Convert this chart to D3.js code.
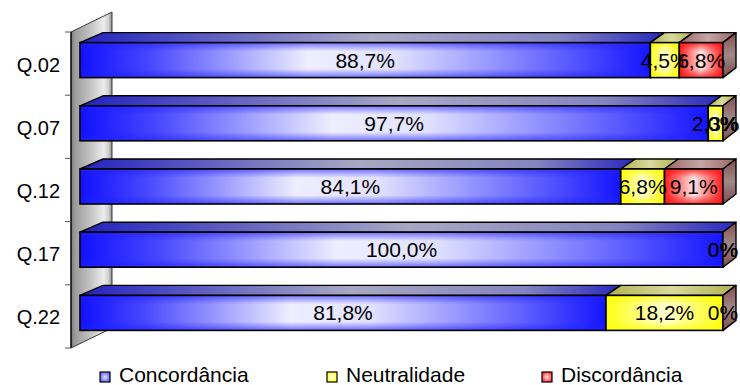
<!DOCTYPE html>
<html>
<head>
<meta charset="utf-8">
<script src="https://cdn.jsdelivr.net/npm/d3@7"></script>
<style>
  body { margin: 0; background: #fff; }
  svg { display: block; }
  text { font-family: "Liberation Sans", Arial, sans-serif; fill: #000; }
</style>
</head>
<body>
<svg id="chart" width="740" height="385"></svg>
<script>
// Question categories and the share (%) of answers in each group
const categories   = ["Q.02", "Q.07", "Q.12", "Q.17", "Q.22"];
const concordancia = [88.7, 97.7, 84.1, 100.0, 81.8];
const neutralidade = [4.5, 2.3, 6.8, 0, 18.2];
const discordancia = [6.8, 0, 9.1, 0, 0];
const seriesNames  = ["Concordância", "Neutralidade", "Discordância"];
const seriesKeys   = ["conc", "neut", "disc"];

const rows = categories.map((c, i) => ({
  cat: c,
  vals: [concordancia[i], neutralidade[i], discordancia[i]]
}));

const svg = d3.select("#chart");
const defs = svg.append("defs");

// ---- gradients -------------------------------------------------------
function hGrad(id, stops) {
  const g = defs.append("linearGradient").attr("id", id)
    .attr("x1", 0).attr("y1", 0).attr("x2", 1).attr("y2", 0);
  stops.forEach(([o, c, a]) => g.append("stop").attr("offset", o)
    .attr("stop-color", c).attr("stop-opacity", a == null ? 1 : a));
}
function vGrad(id, stops) {
  const g = defs.append("linearGradient").attr("id", id)
    .attr("x1", 0).attr("y1", 0).attr("x2", 0).attr("y2", 1);
  stops.forEach(([o, c, a]) => g.append("stop").attr("offset", o)
    .attr("stop-color", c).attr("stop-opacity", a == null ? 1 : a));
}

// front faces
hGrad("front-conc", [[0, "#1010ff"], [0.12, "#4646ff"], [0.40, "#eeeeff"], [0.55, "#e2e2ff"], [0.85, "#5c5cff"], [1, "#1414ff"]]);
hGrad("front-neut", [[0, "#ffff10"], [0.5, "#ffffd0"], [1, "#ffff10"]]);
hGrad("front-disc", [[0, "#ff1818"], [0.5, "#ffe6e6"], [1, "#ff1818"]]);
vGrad("shade-conc", [[0, "#2020ff", 0.6], [0.25, "#2020ff", 0], [0.75, "#2020ff", 0], [1, "#2020ff", 0.6]]);
vGrad("shade-neut", [[0, "#ffff00", 0.8], [0.25, "#ffff00", 0], [0.75, "#ffff00", 0], [1, "#ffff00", 0.8]]);
vGrad("shade-disc", [[0, "#ff1010", 0.8], [0.25, "#ff1010", 0], [0.75, "#ff1010", 0], [1, "#ff1010", 0.8]]);
// top faces
hGrad("top-conc", [[0, "#2222c0"], [0.5, "#a8a8c4"], [0.82, "#8484c0"], [1, "#2828c0"]]);
hGrad("top-neut", [[0, "#b0b050"], [0.5, "#dadaa0"], [1, "#b0b050"]]);
hGrad("top-disc", [[0, "#9c6464"], [0.5, "#c4a6a6"], [1, "#9c6464"]]);
// right side
vGrad("side-disc", [[0, "#845050"], [0.5, "#a08888"], [1, "#7c4a4a"]]);
vGrad("side-neut", [[0, "#9a9a40"], [0.5, "#c0c080"], [1, "#9a9a40"]]);
vGrad("side-conc", [[0, "#1c1c9a"], [0.5, "#5a5ab0"], [1, "#1c1c9a"]]);
// back wall
const wallG = defs.append("linearGradient").attr("id", "wall")
  .attr("gradientUnits", "userSpaceOnUse").attr("x1", 71).attr("x2", 112).attr("y1", 0).attr("y2", 0);
[[0, "#7a7a7a"], [0.1, "#9c9c9c"], [0.5, "#c6c6c6"], [0.8, "#ececec"], [0.92, "#cfcfcf"], [1, "#858585"]]
  .forEach(([o, c]) => wallG.append("stop").attr("offset", o).attr("stop-color", c));
// legend keys
function rGrad(id, edge, center) {
  const g = defs.append("radialGradient").attr("id", id);
  g.append("stop").attr("offset", 0).attr("stop-color", center);
  g.append("stop").attr("offset", 1).attr("stop-color", edge);
}
rGrad("key-conc", "#6a6aff", "#e4e4ff");
rGrad("key-neut", "#ffff40", "#ffffe0");
rGrad("key-disc", "#ff4040", "#ffe4e4");

// ---- scales & projection -------------------------------------------
const wallLeft = 71, wallRight = 112, wallTop = 32, wallBottom = 348, wallDy = -20;

const y = d3.scaleBand().domain(categories)
  .range([wallTop, wallBottom]).paddingInner(0.446).paddingOuter(0.223);
const x = d3.scaleLinear().domain([0, 100]).range([80, 723]);

const barLift = -3.5;     // bars sit a little behind the front plane
const depthDy = -10;      // vertical depth of a bar
const depthDx = px => 23 - 10 * (px - x(0)) / (x(100) - x(0));   // slight perspective

// ---- back wall -------------------------------------------------------
const wallPts = [[wallLeft, wallTop], [wallRight, wallTop + wallDy],
                 [wallRight, wallBottom + wallDy], [wallLeft, wallBottom]];
svg.append("polygon")
  .attr("points", wallPts.map(p => p.join(",")).join(" "))
  .attr("fill", "url(#wall)").attr("stroke", "#3c3c3c").attr("stroke-width", 1);
svg.append("line").attr("x1", wallLeft).attr("x2", wallLeft)
  .attr("y1", wallTop).attr("y2", wallBottom).attr("stroke", "#000").attr("stroke-width", 1.2);

// category ticks on the wall edge
const tickYs = categories.map(c => y(c) - y.step() * y.paddingOuter()).concat([wallBottom]);
svg.append("g").selectAll("line").data(tickYs).join("line")
  .attr("x1", wallLeft - 6).attr("x2", wallLeft)
  .attr("y1", d => d).attr("y2", d => d)
  .attr("stroke", "#555").attr("stroke-width", 1);

// category labels
svg.append("g").selectAll("text").data(categories).join("text")
  .attr("x", 60).attr("y", c => y(c) + y.bandwidth() / 2 + 1)
  .attr("text-anchor", "end").attr("dominant-baseline", "central")
  .attr("font-size", 20).text(c => c);

// ---- bars ------------------------------------------------------------
const pts = a => a.map(p => p.join(",")).join(" ");
const h = y.bandwidth();
const bars = svg.append("g");
const labels = [];

rows.forEach(r => {
  const t = y(r.cat) + barLift;
  const g = bars.append("g");
  let acc = 0;
  const segs = r.vals.map((v, k) => {
    const s = { k, v, x0: x(acc), x1: x(acc + v) };
    acc += v;
    return s;
  });
  segs.forEach(s => {
    const key = seriesKeys[s.k];
    if (s.x1 - s.x0 > 0.01) {
      // top face
      g.append("polygon")
        .attr("points", pts([[s.x0, t], [s.x1, t],
          [s.x1 + depthDx(s.x1), t + depthDy], [s.x0 + depthDx(s.x0), t + depthDy]]))
        .attr("fill", `url(#top-${key})`).attr("stroke", "#000")
        .attr("stroke-width", 1.4).attr("stroke-linejoin", "round");
      // front face
      g.append("rect").attr("x", s.x0).attr("y", t).attr("width", s.x1 - s.x0).attr("height", h)
        .attr("fill", `url(#front-${key})`);
      g.append("rect").attr("x", s.x0).attr("y", t).attr("width", s.x1 - s.x0).attr("height", h)
        .attr("fill", `url(#shade-${key})`).attr("stroke", "#000").attr("stroke-width", 1.6);
    }
    labels.push({ x: (s.x0 + s.x1) / 2, y: t + h / 2, v: s.v });
  });
  // right end face takes the colour of the last series
  const xe = segs[segs.length - 1].x1, d = depthDx(xe);
  g.append("polygon")
    .attr("points", pts([[xe, t], [xe + d, t + depthDy], [xe + d, t + h + depthDy], [xe, t + h]]))
    .attr("fill", `url(#side-${seriesKeys[segs.length - 1]})`).attr("stroke", "#000")
    .attr("stroke-width", 1.4).attr("stroke-linejoin", "round");
});

// value labels
const fmt = v => v === 0 ? "0%" : v.toFixed(1).replace(".", ",") + "%";
svg.append("g").selectAll("text").data(labels).join("text")
  .attr("x", d => d.x).attr("y", d => d.y)
  .attr("text-anchor", "middle").attr("dominant-baseline", "central")
  .attr("font-size", 21).text(d => fmt(d.v));

// ---- legend ------------------------------------------------------------
const legendX = [100, 327, 542];
const leg = svg.append("g").selectAll("g").data(seriesNames).join("g")
  .attr("transform", (d, i) => `translate(${legendX[i]},372)`);
leg.append("rect").attr("width", 10).attr("height", 10)
  .attr("fill", (d, i) => `url(#key-${seriesKeys[i]})`)
  .attr("stroke", "#000").attr("stroke-width", 1.2);
leg.append("text").attr("x", 19).attr("y", 10)
  .attr("font-size", 21).text(d => d);
</script>
</body>
</html>
